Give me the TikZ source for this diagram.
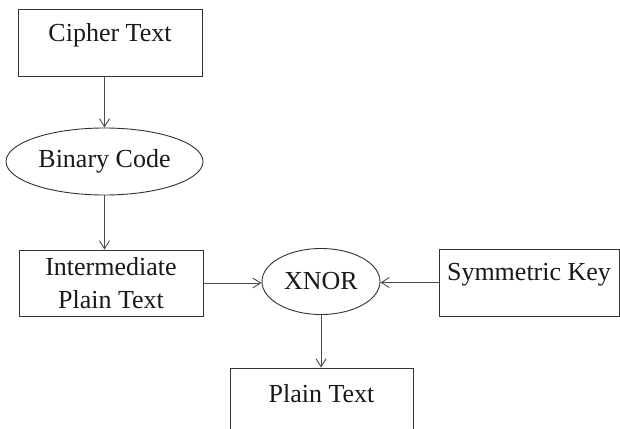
\documentclass[tikz,border=0pt]{standalone}
\usepackage{fontspec}
\setmainfont{Liberation Serif}
\usetikzlibrary{shapes.geometric,arrows.meta}
\begin{document}
\begin{tikzpicture}[x=1pt,y=-1pt,
  every node/.style={font=\fontsize{26}{33}\selectfont, text=black!90},
  boxnode/.style={draw=black!80, line width=0.9pt, rectangle, inner sep=0pt},
  ovalnode/.style={draw=black!80, line width=0.9pt, ellipse, inner sep=0pt},
  conn/.style={draw=black!70, line width=0.9pt, -{Straight Barb[length=8pt,width=10pt]}}
]
\useasboundingbox (0,0) rectangle (620,428);
\fill[white] (0,0) rectangle (620,428);
% boxes
\node[boxnode, minimum width=184pt, minimum height=67pt,
  label={[yshift=7.5pt]center:Cipher Text}] (cipher) at (110,42.5) {};
\node[ovalnode, minimum width=197pt, minimum height=67pt] (binary) at (104.5,161.5) {Binary Code};
\node[boxnode, minimum width=184pt, minimum height=66pt, align=center] (inter) at (111,283) {Intermediate\\Plain Text};
\node[ovalnode, minimum width=118pt, minimum height=66pt] (xnor) at (321,281.5) {XNOR};
\node[boxnode, minimum width=180pt, minimum height=67pt,
  label={[yshift=7.5pt]center:Symmetric Key}] (sym) at (529,282.5) {};
\node[boxnode, minimum width=183pt, minimum height=67pt,
  label={[yshift=8pt]center:Plain Text}] (plain) at (321.5,401.5) {};
% connectors
\draw[conn] (binary.north |- cipher.south) -- (binary.north);
\draw[conn] (binary.south) -- (binary.south |- inter.north);
\draw[conn] (inter.east) -- (inter.east -| xnor.west);
\draw[conn] (sym.west) -- (sym.west -| xnor.east);
\draw[conn] (xnor.south) -- (xnor.south |- plain.north);
\end{tikzpicture}
\end{document}
